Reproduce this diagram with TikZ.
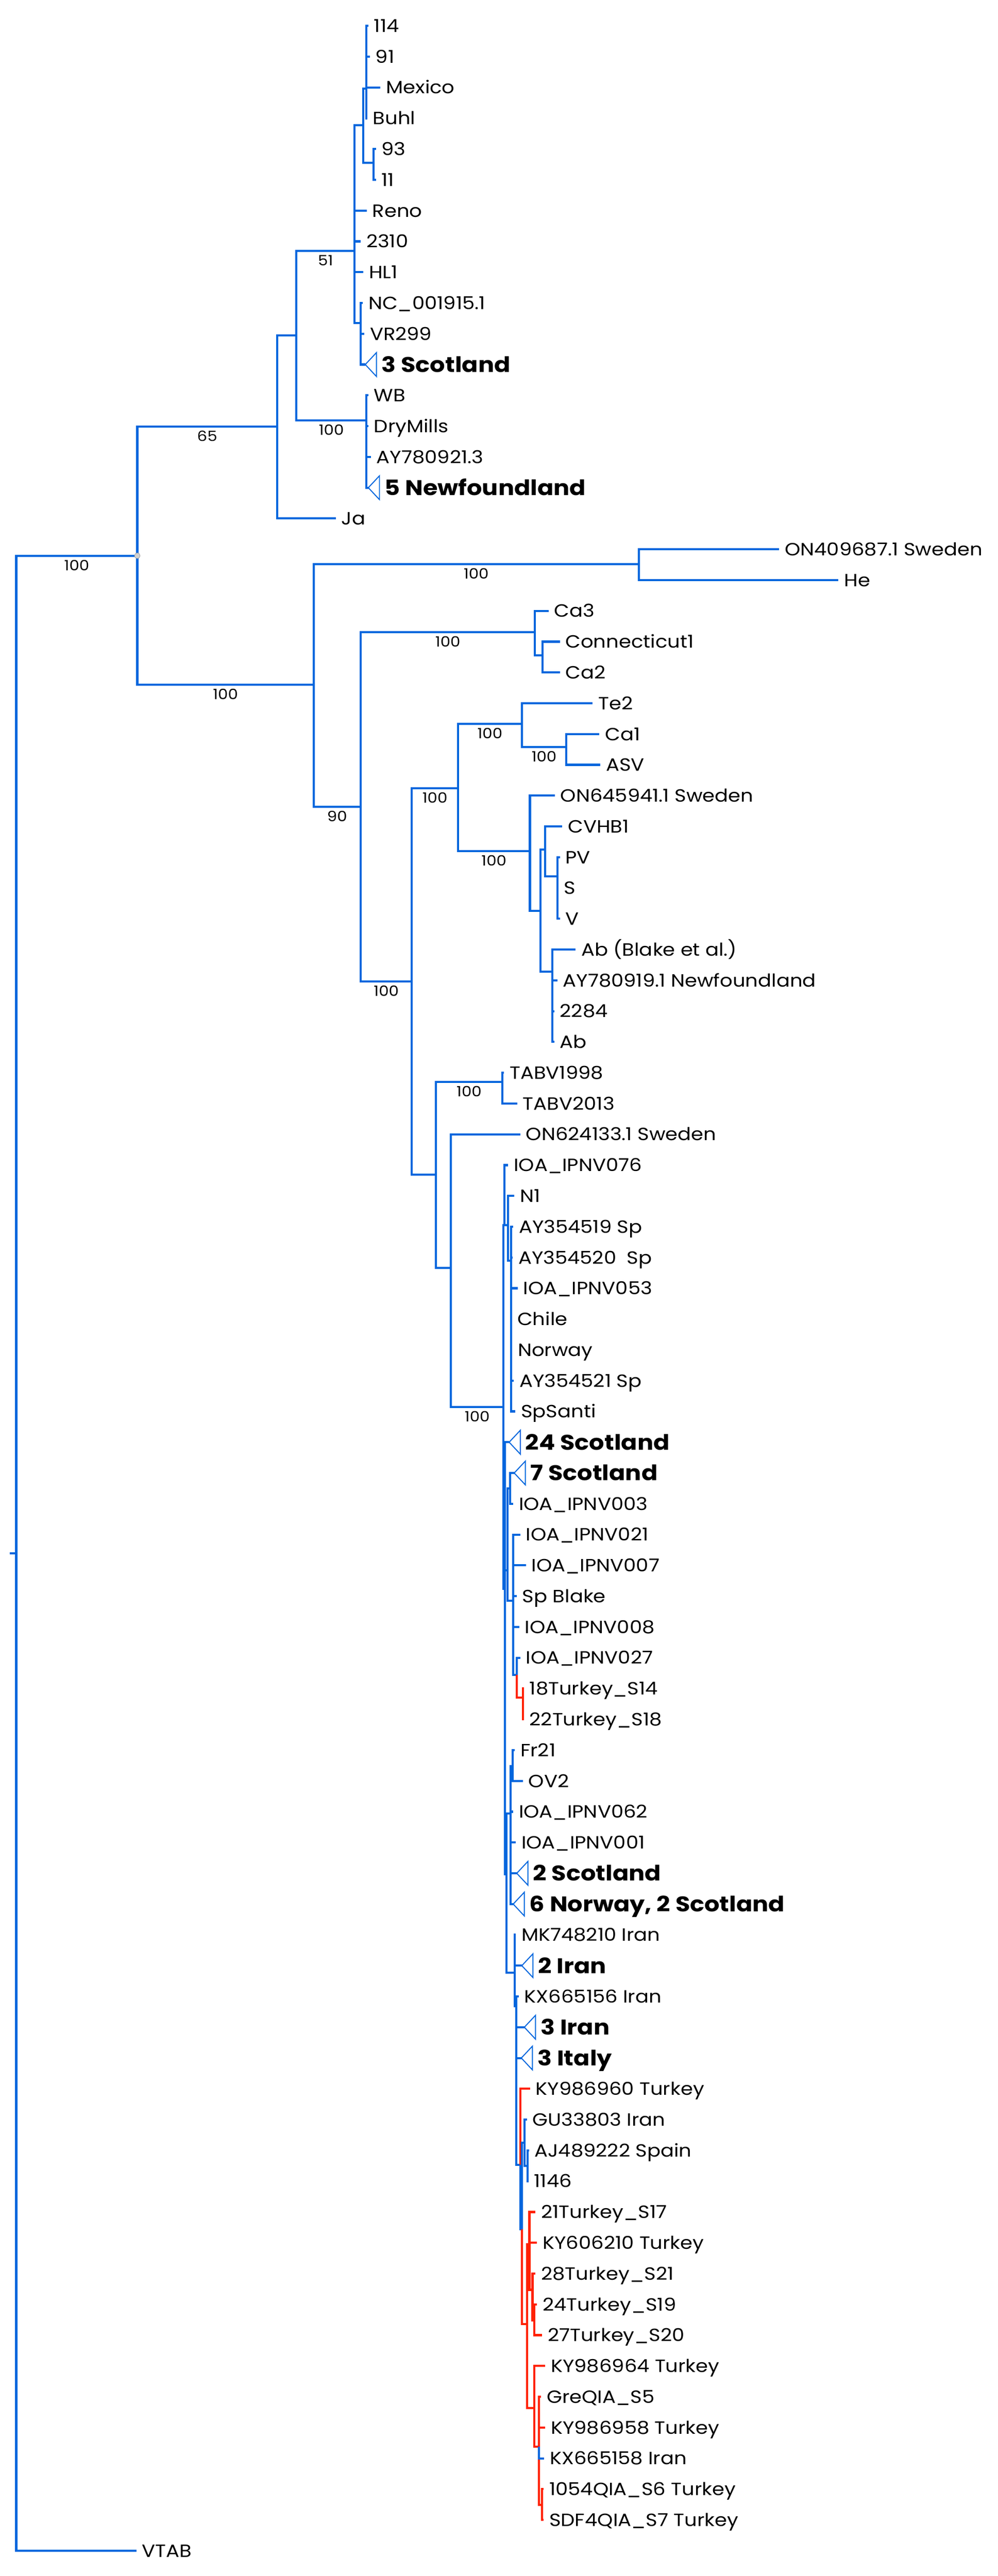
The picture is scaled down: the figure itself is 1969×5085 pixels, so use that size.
\documentclass[tikz,border=0pt]{standalone}
\usepackage{fontspec}
\setmainfont{Poppins}[FakeStretch=1.12]
\usetikzlibrary{calc}
\definecolor{treeBlue}{RGB}{0,102,221}
\definecolor{treeRed}{RGB}{255,34,0}
\tikzstyle{branch} = [draw=treeBlue, line width=4.2pt]
\tikzstyle{redBranch} = [branch, draw=treeRed]
\tikzstyle{collapsed} = [draw=treeBlue, line width=2pt, fill=white]
\tikzstyle{tipLabel} = [anchor=west, inner sep=0pt, text height=25pt, text depth=0pt, font=\fontsize{35}{40}\selectfont]
\tikzstyle{cladeLabel} = [tipLabel, text height=30pt, font=\fontsize{42}{46}\selectfont\bfseries]
\tikzstyle{bootLabel} = [inner sep=0pt, text height=20pt, text depth=0pt, font=\fontsize{28}{32}\selectfont]
% leaf i sits at y = 51 + 60.78 i
\newcommand{\addLeaf}[4]{%
  \coordinate (#1) at (#2,{51+60.78*#3});
  \node[tipLabel] (#1L) at ([xshift=11pt]#1) {#4};}
\newcommand{\addClade}[4]{%
  \coordinate (#1) at (#2,{51+60.78*#3});
  \draw[collapsed] (#1) -- ++(22pt,23.5pt) -- ++(0,-47pt) -- cycle;
  \node[cladeLabel] (#1L) at ([xshift=32pt]#1) {#4};}
\newcommand{\bootVal}[3]{%
  \node[bootLabel] (b#2) at ($(#2)!0.5!(#1 |- #2) + (0,19)$) {#3};}

\begin{document}
\begin{tikzpicture}[x=1pt,y=-1pt]
\useasboundingbox (0,0) rectangle (1969,5085);

% internal nodes
\coordinate (root) at (32,3066);
\coordinate (stub) at (19,3066);
\coordinate (r2) at (271,1097);
\coordinate (n65) at (547,842);
\coordinate (n100a) at (585,662);
\coordinate (n51) at (700,495);
\coordinate (nA) at (717,247);
\coordinate (nA1) at (723,175);
\coordinate (n93) at (737,321);
\coordinate (nB1) at (712,638);
\coordinate (nWB) at (723,830);
\coordinate (n100b) at (619,1352);
\coordinate (nSwe) at (1261,1114);
\coordinate (n90) at (712,1593);
\coordinate (nCa) at (1056,1248);
\coordinate (nConn) at (1071,1294);
\coordinate (n100c) at (813,1937);
\coordinate (n100d) at (904,1556);
\coordinate (nTe) at (1030,1429);
\coordinate (nCa1) at (1118,1475);
\coordinate (nON) at (1046,1680);
\coordinate (nCV) at (1067,1798);
\coordinate (nCVHB) at (1076,1677);
\coordinate (nPV) at (1100,1730);
\coordinate (nAb) at (1090,1918);
\coordinate (nTab) at (860,2319);
\coordinate (nTABV) at (992,2136);
\coordinate (nIP) at (890,2503);
\coordinate (nIPNV) at (994,2777);
\coordinate (nI076) at (996,2418);
\coordinate (nN1) at (1003,2418);
\coordinate (nAY) at (1009,2489);
\coordinate (nIB) at (997,3136);
\coordinate (n7) at (1002,3100);
\coordinate (nS7) at (1007,2938);
\coordinate (nI21) at (1013,3160);
\coordinate (n27) at (1020,3306);
\coordinate (nTk) at (1032,3351);
\coordinate (nC) at (1000,3700);
\coordinate (nFr) at (1008,3580);
\coordinate (nF21) at (1012,3486);
\coordinate (nIr) at (1016,3894);
\coordinate (nK) at (1019,3960);
\coordinate (nKY) at (1027,4273);
\coordinate (nGU) at (1030,4400);
\coordinate (nGU2) at (1035,4230);
\coordinate (nAJ) at (1041,4275);
\coordinate (nRB) at (1040,4588);
\coordinate (n21T) at (1045,4430);
\coordinate (n28) at (1051,4520);
\coordinate (n24) at (1055,4580);
\coordinate (nKYb) at (1055,4753);
\coordinate (nGre) at (1064,4830);
\coordinate (n1054) at (1070,4945);

% tips
\addLeaf{t114}{727}{0}{114}
\addLeaf{t91}{730}{1}{91}
\addLeaf{tMexico}{751}{2}{Mexico}
\addLeaf{tBuhl}{725}{3}{Buhl}
\addLeaf{t93}{742}{4}{93}
\addLeaf{t11}{742}{5}{11}
\addLeaf{tReno}{724}{6}{Reno}
\addLeaf{t2310}{712}{7}{2310}
\addLeaf{tHL1}{717}{8}{HL1}
\addLeaf{tNC}{716}{9}{NC\_001915.1}
\addLeaf{tVR299}{719}{10}{VR299}
\addLeaf{tWB}{727}{12}{WB}
\addLeaf{tDryMills}{727}{13}{DryMills}
\addLeaf{tAY921}{732}{14}{AY780921.3}
\addLeaf{tJa}{663}{16}{Ja}
\addLeaf{tSwe409}{1538}{17}{ON409687.1 Sweden}
\addLeaf{tHe}{1655}{18}{He}
\addLeaf{tCa3}{1083}{19}{Ca3}
\addLeaf{tConn}{1105}{20}{Connecticut1}
\addLeaf{tCa2}{1105}{21}{Ca2}
\addLeaf{tTe2}{1170}{22}{Te2}
\addLeaf{tCa1}{1183}{23}{Ca1}
\addLeaf{tASV}{1185}{24}{ASV}
\addLeaf{tSwe941}{1095}{25}{ON645941.1 Sweden}
\addLeaf{tCVHB1}{1110}{26}{CVHB1}
\addLeaf{tPV}{1105}{27}{PV}
\addLeaf{tS}{1102}{28}{S}
\addLeaf{tV}{1105}{29}{V}
\addLeaf{tAbBlake}{1136}{30}{Ab (Blake et al.)}
\addLeaf{tAY919}{1100}{31}{AY780919.1 Newfoundland}
\addLeaf{t2284}{1094}{32}{2284}
\addLeaf{tAb}{1094}{33}{Ab}
\addLeaf{tTABV98}{995}{34}{TABV1998}
\addLeaf{tTABV13}{1021}{35}{TABV2013}
\addLeaf{tSwe133}{1027}{36}{ON624133.1 Sweden}
\addLeaf{tI076}{1003}{37}{IOA\_IPNV076}
\addLeaf{tN1}{1015}{38}{N1}
\addLeaf{tAY519}{1013}{39}{AY354519 Sp}
\addLeaf{tAY520}{1012}{40}{AY354520~ Sp}
\addLeaf{tI053}{1022}{41}{IOA\_IPNV053}
\addLeaf{tChile}{1010}{42}{Chile}
\addLeaf{tNorway}{1011}{43}{Norway}
\addLeaf{tAY521}{1014}{44}{AY354521 Sp}
\addLeaf{tSpSanti}{1017}{45}{SpSanti}
\addLeaf{tI003}{1013}{48}{IOA\_IPNV003}
\addLeaf{tI021}{1027}{49}{IOA\_IPNV021}
\addLeaf{tI007}{1038}{50}{IOA\_IPNV007}
\addLeaf{tSpBlake}{1020}{51}{Sp Blake}
\addLeaf{tI008}{1025}{52}{IOA\_IPNV008}
\addLeaf{tI027}{1027}{53}{IOA\_IPNV027}
\addLeaf{tTk14}{1034}{54}{18Turkey\_S14}
\addLeaf{tTk18}{1034}{55}{22Turkey\_S18}
\addLeaf{tFr21}{1016}{56}{Fr21}
\addLeaf{tOV2}{1032}{57}{OV2}
\addLeaf{tI062}{1013}{58}{IOA\_IPNV062}
\addLeaf{tI001}{1018}{59}{IOA\_IPNV001}
\addLeaf{tMK210}{1018}{62}{MK748210 Iran}
\addLeaf{tKX156}{1024}{64}{KX665156 Iran}
\addLeaf{tKY960}{1046}{67}{KY986960 Turkey}
\addLeaf{tGU803}{1040}{68}{GU33803 Iran}
\addLeaf{tAJ222}{1044}{69}{AJ489222 Spain}
\addLeaf{t1146}{1043}{70}{1146}
\addLeaf{tTk17}{1057}{71}{21Turkey\_S17}
\addLeaf{tKY210}{1060}{72}{KY606210 Turkey}
\addLeaf{tTk21}{1057}{73}{28Turkey\_S21}
\addLeaf{tTk19}{1060}{74}{24Turkey\_S19}
\addLeaf{tTk20}{1070}{75}{27Turkey\_S20}
\addLeaf{tKY964}{1076}{76}{KY986964 Turkey}
\addLeaf{tGre5}{1068}{77}{GreQIA\_S5}
\addLeaf{tKY958}{1076}{78}{KY986958 Turkey}
\addLeaf{tKX158}{1074}{79}{KX665158 Iran}
\addLeaf{tQ6}{1073}{80}{1054QIA\_S6 Turkey}
\addLeaf{tQ7}{1073}{81}{SDF4QIA\_S7 Turkey}
\addLeaf{tVTAB}{269}{82}{VTAB}

% branches
\draw[branch] (stub) -- (root);
\foreach \k in {r2,tVTAB} \draw[branch] (root) |- (\k);
\foreach \k in {n65,n100b} \draw[branch] (r2) |- (\k);
\foreach \k in {n100a,tJa} \draw[branch] (n65) |- (\k);
\foreach \k in {n51,nWB} \draw[branch] (n100a) |- (\k);
\foreach \k in {nA,tReno,t2310,tHL1,nB1} \draw[branch] (n51) |- (\k);
\foreach \k in {nA1,n93} \draw[branch] (nA) |- (\k);
\foreach \k in {t114,t91,tMexico,tBuhl} \draw[branch] (nA1) |- (\k);
\foreach \k in {t93,t11} \draw[branch] (n93) |- (\k);
\foreach \k in {tNC,tVR299} \draw[branch] (nB1) |- (\k);
\foreach \k in {tWB,tDryMills,tAY921} \draw[branch] (nWB) |- (\k);
\foreach \k in {nSwe,n90} \draw[branch] (n100b) |- (\k);
\foreach \k in {tSwe409,tHe} \draw[branch] (nSwe) |- (\k);
\foreach \k in {nCa,n100c} \draw[branch] (n90) |- (\k);
\foreach \k in {tCa3,nConn} \draw[branch] (nCa) |- (\k);
\foreach \k in {tConn,tCa2} \draw[branch] (nConn) |- (\k);
\foreach \k in {n100d,nTab} \draw[branch] (n100c) |- (\k);
\foreach \k in {nTe,nON} \draw[branch] (n100d) |- (\k);
\foreach \k in {tTe2,nCa1} \draw[branch] (nTe) |- (\k);
\foreach \k in {tCa1,tASV} \draw[branch] (nCa1) |- (\k);
\foreach \k in {tSwe941,nCV} \draw[branch] (nON) |- (\k);
\foreach \k in {nCVHB,nAb} \draw[branch] (nCV) |- (\k);
\foreach \k in {tCVHB1,nPV} \draw[branch] (nCVHB) |- (\k);
\foreach \k in {tPV,tS,tV} \draw[branch] (nPV) |- (\k);
\foreach \k in {tAbBlake,tAY919,t2284,tAb} \draw[branch] (nAb) |- (\k);
\foreach \k in {nTABV,nIP} \draw[branch] (nTab) |- (\k);
\foreach \k in {tTABV98,tTABV13} \draw[branch] (nTABV) |- (\k);
\foreach \k in {tSwe133,nIPNV} \draw[branch] (nIP) |- (\k);
\foreach \k in {nI076,nIB} \draw[branch] (nIPNV) |- (\k);
\foreach \k in {tI076,nN1} \draw[branch] (nI076) |- (\k);
\foreach \k in {tN1,nAY} \draw[branch] (nN1) |- (\k);
\foreach \k in {tAY519,tAY520,tI053,tChile,tNorway,tAY521,tSpSanti} \draw[branch] (nAY) |- (\k);
\foreach \k in {n7,nC} \draw[branch] (nIB) |- (\k);
\foreach \k in {nS7,nI21} \draw[branch] (n7) |- (\k);
\draw[branch] (nS7) |- (tI003);
\foreach \k in {tI021,tI007,tSpBlake,tI008,n27} \draw[branch] (nI21) |- (\k);
\draw[branch] (n27) |- (tI027);
\draw[redBranch] (n27) |- (nTk);
\foreach \k in {tTk14,tTk18} \draw[redBranch] (nTk) |- (\k);
\foreach \k in {nFr,nIr} \draw[branch] (nC) |- (\k);
\foreach \k in {nF21,tI062,tI001} \draw[branch] (nFr) |- (\k);
\foreach \k in {tFr21,tOV2} \draw[branch] (nF21) |- (\k);
\foreach \k in {tMK210,nK} \draw[branch] (nIr) |- (\k);
\foreach \k in {tKX156,nKY} \draw[branch] (nK) |- (\k);
\draw[redBranch] (nKY) |- (tKY960);
\draw[branch] (nKY) |- (nGU);
\draw[branch] (nGU) |- (nGU2);
\draw[redBranch] (nGU) |- (nRB);
\foreach \k in {tGU803,nAJ} \draw[branch] (nGU2) |- (\k);
\foreach \k in {tAJ222,t1146} \draw[branch] (nAJ) |- (\k);
\foreach \k in {n21T,nKYb} \draw[redBranch] (nRB) |- (\k);
\foreach \k in {tTk17,tKY210,n28} \draw[redBranch] (n21T) |- (\k);
\foreach \k in {tTk21,n24} \draw[redBranch] (n28) |- (\k);
\foreach \k in {tTk19,tTk20} \draw[redBranch] (n24) |- (\k);
\foreach \k in {tKY964,nGre} \draw[redBranch] (nKYb) |- (\k);
\foreach \k in {tGre5,tKY958,n1054} \draw[redBranch] (nGre) |- (\k);
\foreach \k in {tQ6,tQ7} \draw[redBranch] (n1054) |- (\k);
\draw[branch] (nGre) |- (tKX158);

% collapsed clades
\addClade{cScot3}{721}{11}{3 Scotland}
\addClade{cNewf5}{727}{15}{5 Newfoundland}
\addClade{cScot24}{1005}{46}{24 Scotland}
\addClade{cScot7}{1015}{47}{7 Scotland}
\addClade{cScot2}{1020}{60}{2 Scotland}
\addClade{cNorScot}{1013}{61}{6 Norway, 2 Scotland}
\addClade{cIran2}{1030}{63}{2 Iran}
\addClade{cIran3}{1035}{65}{3 Iran}
\addClade{cItaly3}{1029}{66}{3 Italy}
\draw[branch] (nB1) |- (cScot3);
\draw[branch] (nWB) |- (cNewf5);
\draw[branch] (nIB) |- (cScot24);
\draw[branch] (nS7) |- (cScot7);
\foreach \k in {cScot2,cNorScot} \draw[branch] (nFr) |- (\k);
\draw[branch] (nIr) |- (cIran2);
\foreach \k in {cIran3,cItaly3} \draw[branch] (nK) |- (\k);

% support values
\bootVal{root}{r2}{100}
\bootVal{r2}{n65}{65}
\bootVal{n100a}{n51}{51}
\bootVal{n100a}{nWB}{100}
\bootVal{r2}{n100b}{100}
\bootVal{n100b}{nSwe}{100}
\bootVal{n100b}{n90}{90}
\bootVal{n90}{nCa}{100}
\bootVal{n90}{n100c}{100}
\bootVal{n100c}{n100d}{100}
\bootVal{n100d}{nTe}{100}
\bootVal{nTe}{nCa1}{100}
\bootVal{n100d}{nON}{100}
\bootVal{nTab}{nTABV}{100}
\bootVal{nIP}{nIPNV}{100}

\node[circle, fill=gray!35, draw=gray!70, line width=1pt, inner sep=0pt, minimum size=11pt] (r2dot) at (r2) {};
\end{tikzpicture}
\end{document}
